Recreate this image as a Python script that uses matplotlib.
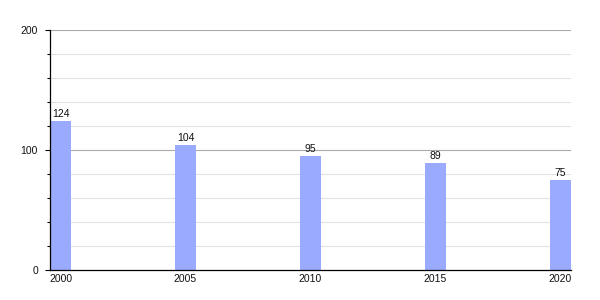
import matplotlib
matplotlib.use("Agg")
import matplotlib.pyplot as plt
import numpy as np

plt.rcParams['font.family'] = ['Liberation Sans', 'DejaVu Sans']

years = ["2000", "2005", "2010", "2015", "2020"]
values = [124, 104, 95, 89, 75]

fig = plt.figure(figsize=(6, 3), dpi=100)
ax = fig.add_axes([50/600, 30/300, 521/600, 240/300])

w = 21/125
x = np.arange(len(years))
bars = ax.bar(x, values, width=w, align='edge', color='#99aaff', zorder=2)
for xi, v in zip(x, values):
    ax.text(xi + w/2, v + 2, str(v), ha='center', va='bottom', fontsize=7.5, color='#111111', zorder=3)

ax.set_xlim(0, len(years) - 1 + w)
ax.set_ylim(0, 200)
ax.set_xticks(x + w/2)
ax.set_xticklabels(years)
ax.set_yticks([0, 100, 200])
ax.set_yticks(np.arange(20, 200, 20), minor=True)
for yv in np.arange(20, 200, 20):
    if yv % 100:
        ax.axhline(yv, color='#e2e2e2', lw=0.8, zorder=1)
for yv in [100, 200]:
    ax.axhline(yv, color='#aaaaaa', lw=0.8, zorder=1)

for s in ['top', 'right']:
    ax.spines[s].set_visible(False)
ax.spines['left'].set_color('black')
ax.spines['bottom'].set_color('black')
ax.spines['left'].set_linewidth(0.9)
ax.spines['bottom'].set_linewidth(0.9)
ax.tick_params(axis='y', which='major', length=3.6, width=0.8, labelsize=7.5, pad=5, labelcolor='#111111')
ax.tick_params(axis='y', which='minor', length=2, width=0.8)
ax.tick_params(axis='x', length=0, labelsize=7.5, pad=3, labelcolor='#111111')

fig.savefig('out.png', dpi=100)
